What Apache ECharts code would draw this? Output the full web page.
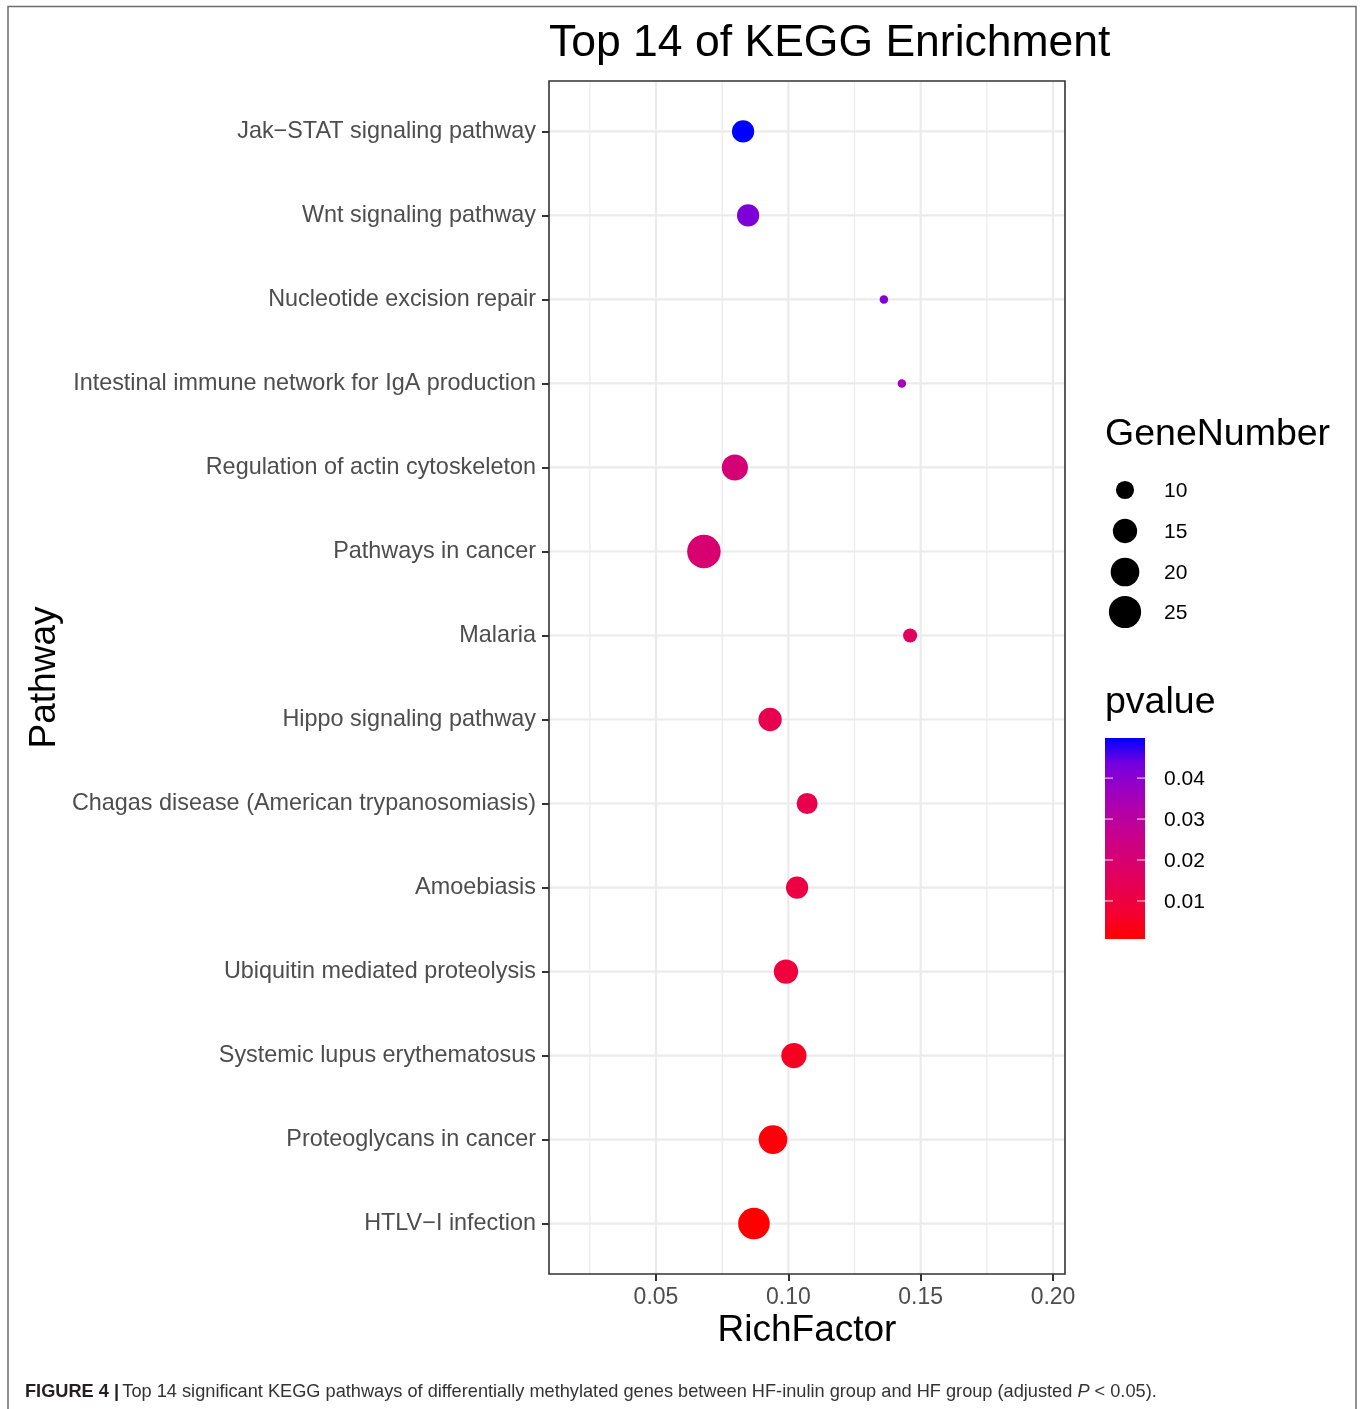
<!DOCTYPE html>
<html>
<head>
<meta charset="utf-8">
<title>Top 14 of KEGG Enrichment</title>
<script src="https://cdn.jsdelivr.net/npm/echarts@6/dist/echarts.min.js"></script>
<style>
  html, body { margin: 0; padding: 0; background: #ffffff; }
  #chart { width: 1360px; height: 1409px; }
</style>
</head>
<body>
<div id="chart"></div>
<script>
// KEGG pathways, top to bottom
const pathways = [
  'Jak\u2212STAT signaling pathway',
  'Wnt signaling pathway',
  'Nucleotide excision repair',
  'Intestinal immune network for IgA production',
  'Regulation of actin cytoskeleton',
  'Pathways in cancer',
  'Malaria',
  'Hippo signaling pathway',
  'Chagas disease (American trypanosomiasis)',
  'Amoebiasis',
  'Ubiquitin mediated proteolysis',
  'Systemic lupus erythematosus',
  'Proteoglycans in cancer',
  'HTLV\u2212I infection'
];
const richFactor = [0.0829, 0.0848, 0.1361, 0.1429, 0.0798, 0.0681, 0.1460,
                    0.0931, 0.1071, 0.1033, 0.0991, 0.1021, 0.0942, 0.0870];
const geneNumber = [13, 13, 7, 7, 17, 27, 8, 14, 12, 13, 15, 16, 20, 24];
const pValue = [0.0498, 0.042, 0.041, 0.035, 0.021, 0.020, 0.016,
                0.013, 0.0125, 0.0105, 0.009, 0.005, 0.002, 0.0007];

// axis / legend ticks
const xTicks = [0.05, 0.10, 0.15, 0.20];
const xMinorTicks = [0.025, 0.075, 0.125, 0.175];
const sizeLegendValues = [10, 15, 20, 25];
const pLegendTicks = [0.01, 0.02, 0.03, 0.04];

// ---- scales ----
const gMin = Math.min(...geneNumber), gMax = Math.max(...geneNumber);
const pMin = Math.min(...pValue), pMax = Math.max(...pValue);
// point diameter grows with sqrt of the rescaled gene count (area scale)
function sizeOf(g) {
  const t = Math.max(0, (g - gMin) / (gMax - gMin));
  return 8.5 + 25 * Math.sqrt(t);
}
// red -> blue gradient sampled in Lab space
const gradient = ['#FF0000', '#F40031', '#E8004F', '#DA006C', '#CA0089',
                  '#B500A5', '#9A00C3', '#7300E0', '#0000FF'];

const FONT = 'Liberation Sans, Arial, Helvetica, sans-serif';

// panel geometry and data-space extents
const P = { left: 549, top: 81, right: 1065, bottom: 1274 };
const X_MIN = 0.00957, X_MAX = 0.20453;
const Y_MIN = -0.6, Y_MAX = pathways.length - 1 + 0.6;

const data = pathways.map((name, i) => [richFactor[i], i, geneNumber[i], pValue[i], name]);

// grid lines: [orientation, value, width]
const gridLines = [];
xMinorTicks.forEach(v => gridLines.push(['v', v, 1.2]));
xTicks.forEach(v => gridLines.push(['v', v, 2.2]));
pathways.forEach((_, i) => gridLines.push(['h', i, 2.2]));

function renderGridLine(params, api) {
  const dir = gridLines[params.dataIndex][0];
  const v = gridLines[params.dataIndex][1];
  const w = gridLines[params.dataIndex][2];
  const a = dir === 'v' ? api.coord([v, Y_MIN]) : api.coord([X_MIN, v]);
  const b = dir === 'v' ? api.coord([v, Y_MAX]) : api.coord([X_MAX, v]);
  return {
    type: 'line',
    shape: { x1: a[0], y1: a[1], x2: b[0], y2: b[1] },
    style: { stroke: '#EBEBEB', lineWidth: w }
  };
}

// legend graphics
const legendX = 1105;
const graphics = [];

// outer frame
graphics.push({
  type: 'polyline', silent: true, z: 50,
  shape: { points: [[8, 1420], [8, 6.5], [1356, 6.5], [1356, 1420]] },
  style: { stroke: '#6E6E6E', lineWidth: 1.5, fill: null }
});
// panel border
graphics.push({
  type: 'rect', silent: true, z: 50,
  shape: { x: P.left, y: P.top, width: P.right - P.left, height: P.bottom - P.top },
  style: { stroke: '#333333', lineWidth: 1.6, fill: null }
});
// title
graphics.push({
  type: 'text', silent: true, z: 50, x: 549, y: 44,
  style: { text: 'Top 14 of KEGG Enrichment', font: '44.5px ' + FONT, fill: '#000000',
           textAlign: 'left', textVerticalAlign: 'middle' }
});
// axis titles
graphics.push({
  type: 'text', silent: true, z: 50, x: (P.left + P.right) / 2, y: 1331,
  style: { text: 'RichFactor', font: '37px ' + FONT, fill: '#000000',
           textAlign: 'center', textVerticalAlign: 'middle' }
});
graphics.push({
  type: 'text', silent: true, z: 50, x: 45, y: (P.top + P.bottom) / 2, rotation: Math.PI / 2,
  style: { text: 'Pathway', font: '37px ' + FONT, fill: '#000000',
           textAlign: 'center', textVerticalAlign: 'middle' }
});
// size legend
graphics.push({
  type: 'text', silent: true, z: 50, x: legendX, y: 435,
  style: { text: 'GeneNumber', font: '37.5px ' + FONT, fill: '#000000',
           textAlign: 'left', textVerticalAlign: 'middle' }
});
const sizeRowY = [490, 531, 572, 612];
sizeLegendValues.forEach((g, k) => {
  graphics.push({
    type: 'circle', silent: true, z: 50,
    shape: { cx: 1125, cy: sizeRowY[k], r: sizeOf(g) / 2 },
    style: { fill: '#000000' }
  });
  graphics.push({
    type: 'text', silent: true, z: 50, x: 1164, y: sizeRowY[k] + 1,
    style: { text: String(g), font: '21px ' + FONT, fill: '#000000',
             textAlign: 'left', textVerticalAlign: 'middle' }
  });
});
// colour legend
graphics.push({
  type: 'text', silent: true, z: 50, x: legendX, y: 703,
  style: { text: 'pvalue', font: '37.5px ' + FONT, fill: '#000000',
           textAlign: 'left', textVerticalAlign: 'middle' }
});
const bar = { x: 1105, y: 738, w: 40, h: 201 };
graphics.push({
  type: 'rect', silent: true, z: 50,
  shape: { x: bar.x, y: bar.y, width: bar.w, height: bar.h },
  style: {
    fill: new echarts.graphic.LinearGradient(0, 1, 0, 0,
      gradient.map((c, i) => ({ offset: i / (gradient.length - 1), color: c })))
  }
});
pLegendTicks.forEach(v => {
  const y = bar.y + bar.h - (v - pMin) / (pMax - pMin) * bar.h;
  [[bar.x, bar.x + 8], [bar.x + bar.w - 8, bar.x + bar.w]].forEach(([x1, x2]) => {
    graphics.push({
      type: 'line', silent: true, z: 51,
      shape: { x1: x1, y1: y, x2: x2, y2: y },
      style: { stroke: 'rgba(255,255,255,0.75)', lineWidth: 1.2 }
    });
  });
  graphics.push({
    type: 'text', silent: true, z: 50, x: 1164, y: y + 1,
    style: { text: v.toFixed(2), font: '21px ' + FONT, fill: '#000000',
             textAlign: 'left', textVerticalAlign: 'middle' }
  });
});
// figure caption
graphics.push({
  type: 'text', silent: true, z: 50, x: 25, y: 1392,
  style: {
    text: '{b|FIGURE 4 |} {n|Top 14 significant KEGG pathways of differentially methylated genes between HF-inulin group and HF group (adjusted }{i|P}{n| < 0.05).}',
    textAlign: 'left', textVerticalAlign: 'middle',
    rich: {
      b: { font: 'bold 18.2px ' + FONT, fill: '#231F20' },
      n: { font: '18.2px ' + FONT, fill: '#333333' },
      i: { font: 'italic 18.2px ' + FONT, fill: '#333333' }
    }
  }
});

const chart = echarts.init(document.getElementById('chart'), null, { renderer: 'canvas' });
chart.setOption({
  animation: false,
  backgroundColor: '#ffffff',
  grid: {
    left: P.left, top: P.top,
    width: P.right - P.left, height: P.bottom - P.top,
    show: false, containLabel: false
  },
  xAxis: {
    type: 'value',
    position: 'bottom',
    min: X_MIN, max: X_MAX,
    axisLine: { show: false, onZero: false },
    axisTick: { show: true, customValues: xTicks, length: 7,
                lineStyle: { color: '#333333', width: 2 } },
    axisLabel: { show: true, customValues: xTicks, margin: 12,
                 formatter: v => v.toFixed(2),
                 color: '#4D4D4D', fontSize: 23, fontFamily: FONT },
    splitLine: { show: false }
  },
  yAxis: {
    type: 'value',
    position: 'left',
    inverse: true,
    min: Y_MIN, max: Y_MAX,
    axisLine: { show: false, onZero: false },
    axisTick: { show: true, customValues: pathways.map((_, i) => i), length: 7,
                lineStyle: { color: '#333333', width: 2 } },
    axisLabel: { show: true, customValues: pathways.map((_, i) => i), margin: 13,
                 formatter: v => pathways[Math.round(v)],
                 color: '#4D4D4D', fontSize: 23.4, fontFamily: FONT },
    splitLine: { show: false }
  },
  visualMap: {
    type: 'continuous',
    show: false,
    seriesIndex: 1,
    dimension: 3,
    min: pMin, max: pMax,
    inRange: { color: gradient }
  },
  series: [
    {
      type: 'custom',
      z: 1,
      silent: true,
      clip: true,
      renderItem: renderGridLine,
      data: gridLines.map((g, i) => [i])
    },
    {
      type: 'scatter',
      z: 5,
      data: data,
      encode: { x: 0, y: 1 },
      symbol: 'circle',
      symbolSize: val => sizeOf(val[2]),
      itemStyle: { opacity: 1 }
    }
  ],
  graphic: graphics
});
</script>
</body>
</html>
